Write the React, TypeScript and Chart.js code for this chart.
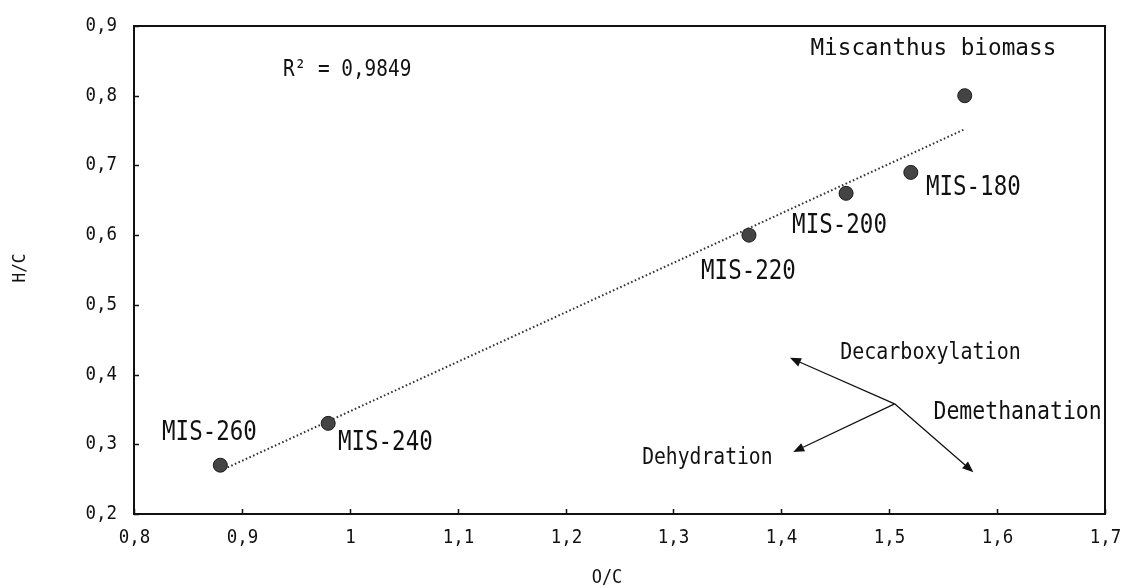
import React, { useEffect, useRef } from 'react';
import { Chart, registerables } from 'chart.js';
Chart.register(...registerables);

// ---- data ----
const sampleNames = ['Miscanthus biomass', 'MIS-180', 'MIS-200', 'MIS-220', 'MIS-240', 'MIS-260'];
const ocValues = [1.57, 1.52, 1.46, 1.37, 0.98, 0.88];
const hcValues = [0.80, 0.69, 0.66, 0.60, 0.33, 0.27];
const trendX = [0.88, 1.57];
const trendY = [0.262, 0.752];
const xTicks = [0.8, 0.9, 1.0, 1.1, 1.2, 1.3, 1.4, 1.5, 1.6, 1.7];
const yTicks = [0.2, 0.3, 0.4, 0.5, 0.6, 0.7, 0.8, 0.9];
const rSquaredText = 'R² = 0,9849';

// label anchors (data coordinates) for sample names
const labelX = [1.427, 1.534, 1.410, 1.3256, 0.989, 0.826];
const labelY = [0.867, 0.668, 0.613, 0.547, 0.302, 0.316];

// reaction arrows
const arrowOrigin = { x: 1.505, y: 0.358 };
const arrowNames = ['Decarboxylation', 'Demethanation', 'Dehydration'];
const arrowTipX = [1.408, 1.578, 1.411];
const arrowTipY = [0.424, 0.260, 0.289];
const arrowLabelX = [1.4545, 1.541, 1.271];
const arrowLabelY = [0.431, 0.345, 0.280];

const FONT = "'DejaVu Sans Mono', monospace";
const INK = '#111';

const fmt = (v: number) => String(Math.round(v * 10) / 10).replace('.', ',');

function drawText(ctx: CanvasRenderingContext2D, text: string, px: number, py: number, size: number, k: number, align: CanvasTextAlign = 'left') {
  ctx.save();
  ctx.translate(px, py);
  ctx.scale(1, k);
  ctx.font = `${size}px ${FONT}`;
  ctx.fillStyle = INK;
  ctx.textAlign = align;
  ctx.textBaseline = 'middle';
  ctx.fillText(text, 0, 0);
  ctx.restore();
}

function arrow(ctx: CanvasRenderingContext2D, x0: number, y0: number, x1: number, y1: number) {
  const ang = Math.atan2(y1 - y0, x1 - x0);
  const hl = 11, hw = 4.5;
  const bx = x1 - hl * Math.cos(ang), by = y1 - hl * Math.sin(ang);
  ctx.beginPath();
  ctx.moveTo(x0, y0);
  ctx.lineTo(bx, by);
  ctx.stroke();
  ctx.beginPath();
  ctx.moveTo(x1, y1);
  ctx.lineTo(bx + hw * Math.sin(ang), by - hw * Math.cos(ang));
  ctx.lineTo(bx - hw * Math.sin(ang), by + hw * Math.cos(ang));
  ctx.closePath();
  ctx.fill();
}

const annotPlugin = {
  id: 'annot',
  afterDatasetsDraw(chart: any) {
    const { ctx, chartArea } = chart;
    const xs = chart.scales.x, ys = chart.scales.y;
    const { left, right, top, bottom } = chartArea;
    ctx.save();
    // frame
    ctx.strokeStyle = INK;
    ctx.lineWidth = 2;
    ctx.strokeRect(left, top, right - left, bottom - top);
    // inward ticks + tick labels
    ctx.lineWidth = 1.5;
    xTicks.forEach((v) => {
      const px = Math.round(xs.getPixelForValue(v)) + 0.5;
      ctx.beginPath(); ctx.moveTo(px, bottom); ctx.lineTo(px, bottom - 5); ctx.stroke();
      drawText(ctx, fmt(v), px, bottom + 24, 17.5, 1.15, 'center');
    });
    yTicks.forEach((v) => {
      const py = Math.round(ys.getPixelForValue(v)) + 0.5;
      ctx.beginPath(); ctx.moveTo(left, py); ctx.lineTo(left + 5, py); ctx.stroke();
      drawText(ctx, fmt(v), left - 17, py - 1, 17.5, 1.15, 'right');
    });
    // arrows
    ctx.strokeStyle = INK;
    ctx.fillStyle = INK;
    ctx.lineWidth = 1.3;
    const ox = xs.getPixelForValue(arrowOrigin.x), oy = ys.getPixelForValue(arrowOrigin.y);
    arrowTipX.forEach((tx, i) => {
      arrow(ctx, ox, oy, xs.getPixelForValue(tx), ys.getPixelForValue(arrowTipY[i]));
    });
    // arrow labels
    const arrowSizes = [20, 21.5, 19.7];
    arrowNames.forEach((t, i) => {
      drawText(ctx, t, xs.getPixelForValue(arrowLabelX[i]), ys.getPixelForValue(arrowLabelY[i]), arrowSizes[i], 1.17);
    });
    // sample labels
    sampleNames.forEach((t, i) => {
      const size = i === 0 ? 22.7 : 22.5;
      const k = i === 0 ? 1.0 : 1.2;
      drawText(ctx, t, xs.getPixelForValue(labelX[i]), ys.getPixelForValue(labelY[i]), size, k);
    });
    // R squared
    drawText(ctx, rSquaredText, xs.getPixelForValue(0.938), ys.getPixelForValue(0.837), 19.4, 1.2);
    // axis titles
    drawText(ctx, 'O/C', 607, 578, 17, 1.15, 'center');
    ctx.save();
    ctx.translate(20, 268);
    ctx.rotate(-Math.PI / 2);
    drawText(ctx, 'H/C', 0, 0, 16, 1.15, 'center');
    ctx.restore();
    ctx.restore();
  },
};

export default function App() {
  const ref = useRef<HTMLCanvasElement>(null);
  useEffect(() => {
    document.body.style.margin = '0';
    const canvas = ref.current!;
    const chart = new Chart(canvas, {
      type: 'scatter',
      data: {
        datasets: [
          {
            label: 'samples',
            data: ocValues.map((v, i) => ({ x: v, y: hcValues[i] })),
            pointRadius: 7,
            pointHoverRadius: 7,
            backgroundColor: '#444',
            borderColor: '#1a1a1a',
            borderWidth: 1,
            order: 1,
          },
          {
            label: 'trend',
            data: trendX.map((v, i) => ({ x: v, y: trendY[i] })),
            showLine: true,
            borderColor: '#333',
            borderWidth: 2,
            borderDash: [1.6, 2.4],
            pointRadius: 0,
            order: 2,
          },
        ],
      },
      options: {
        animation: false,
        responsive: false,
        devicePixelRatio: 1,
        layout: { padding: { top: 26, right: 18, left: 0, bottom: 0 } },
        plugins: { legend: { display: false }, tooltip: { enabled: false } },
        scales: {
          x: {
            type: 'linear',
            min: 0.8,
            max: 1.7,
            grid: { display: false },
            border: { display: false },
            ticks: { display: false },
            afterBuildTicks: (s: any) => { s.ticks = xTicks.map((v) => ({ value: v })); },
            afterFit: (s: any) => { s.height = 74; s.paddingLeft = 0; s.paddingRight = 0; },
          },
          y: {
            type: 'linear',
            min: 0.2,
            max: 0.9,
            grid: { display: false },
            border: { display: false },
            ticks: { display: false },
            afterBuildTicks: (s: any) => { s.ticks = yTicks.map((v) => ({ value: v })); },
            afterFit: (s: any) => { s.width = 134; s.paddingTop = 0; s.paddingBottom = 0; },
          },
        },
      },
      plugins: [annotPlugin],
    });
    return () => chart.destroy();
  }, []);
  return <canvas ref={ref} width={1123} height={588} style={{ display: 'block', width: 1123, height: 588 }} />;
}
